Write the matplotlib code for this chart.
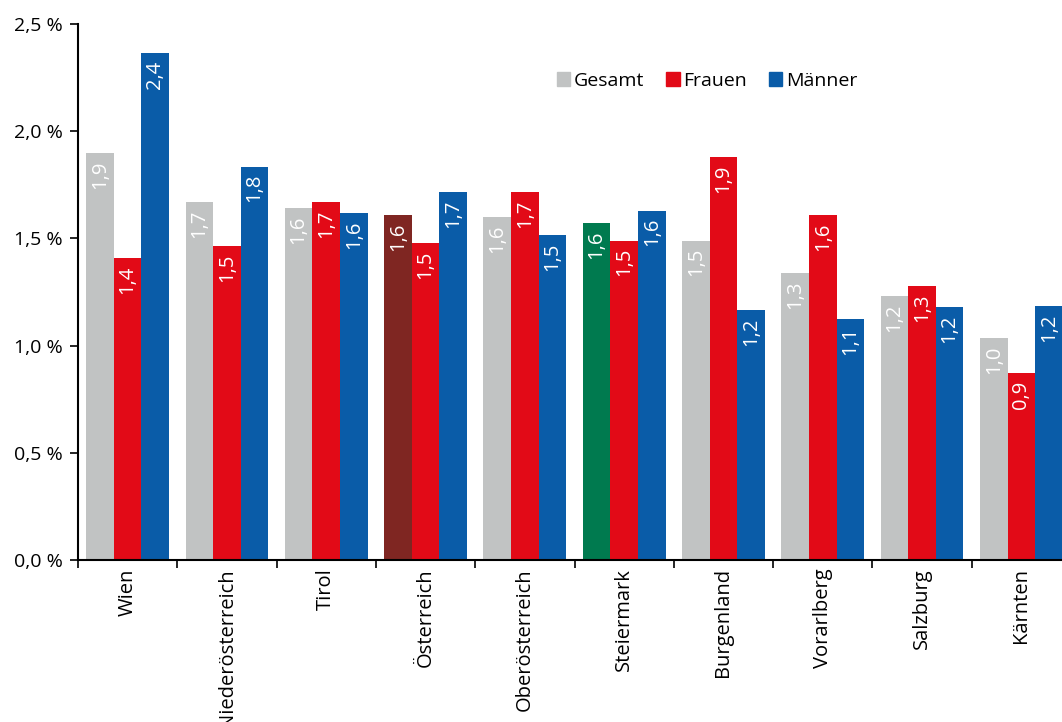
"""Grouped bar chart: rates by Bundesland, Gesamt / Frauen / Männer."""

import matplotlib

matplotlib.use("Agg")

import matplotlib.pyplot as plt
import numpy as np
from matplotlib.patches import Patch
from matplotlib.ticker import FuncFormatter

regions = ["Wien", "Niederösterreich", "Tirol", "Österreich", "Oberösterreich",
           "Steiermark", "Burgenland", "Vorarlberg", "Salzburg", "Kärnten"]
gesamt = [1.90, 1.67, 1.64, 1.61, 1.60, 1.57, 1.49, 1.34, 1.23, 1.035]
frauen = [1.41, 1.465, 1.67, 1.48, 1.715, 1.49, 1.88, 1.61, 1.28, 0.87]
maenner = [2.365, 1.835, 1.62, 1.715, 1.515, 1.63, 1.165, 1.125, 1.18, 1.185]
series_names = ["Gesamt", "Frauen", "Männer"]

GREY = "#C1C3C3"
RED = "#E20A17"
BLUE = "#0A5CA8"
gesamt_colors = [GREY] * len(regions)
gesamt_colors[regions.index("Österreich")] = "#7F2622"
gesamt_colors[regions.index("Steiermark")] = "#007A4F"

plt.rcParams["font.family"] = ["Open Sans", "DejaVu Sans"]

fig = plt.figure(figsize=(10.62, 7.22), dpi=100)
ax = fig.add_axes([78 / 1062, 1 - 560 / 722, 993 / 1062, 536 / 722])

x = np.arange(len(regions))
width = 0.278
groups = [
    (gesamt, gesamt_colors, -width),
    (frauen, [RED] * len(regions), 0.0),
    (maenner, [BLUE] * len(regions), width),
]
for values, colors, offset in groups:
    bars = ax.bar(x + offset, values, width=width, color=colors, linewidth=0)
    for bar, val in zip(bars, values):
        label = f"{val:.1f}".replace(".", ",")
        ax.text(bar.get_x() + bar.get_width() / 2, val - 0.035, label,
                rotation=90, ha="center", va="top", color="white", fontsize=14.5)

ax.set_xlim(-0.5, len(regions) - 0.5)
ax.set_ylim(0, 2.5)
ax.set_yticks(np.arange(0, 2.51, 0.5))
ax.yaxis.set_major_formatter(FuncFormatter(lambda v, _: f"{v:.1f} %".replace(".", ",")))

ax.set_xticks(x)
ax.set_xticklabels(regions, rotation=90, fontsize=14.5)
ax.set_xticks(np.arange(-0.5, len(regions), 1.0), minor=True)
ax.tick_params(axis="x", which="major", length=0, pad=6)
ax.tick_params(axis="x", which="minor", length=6, width=1.2, direction="out")
ax.tick_params(axis="y", length=6, width=1.2, direction="out", labelsize=14, pad=5)

for side in ("top", "right"):
    ax.spines[side].set_visible(False)
for side in ("left", "bottom"):
    ax.spines[side].set_linewidth(1.5)

handles = [Patch(color=c) for c in (GREY, RED, BLUE)]
fig.legend(handles, series_names, loc="center left", bbox_to_anchor=(547 / 1062, 1 - 81 / 722),
           ncol=3, frameon=False, fontsize=14, handlelength=0.7, handleheight=0.7,
           handletextpad=0.2, columnspacing=1.1, borderpad=0)

fig.savefig("out.png", dpi=100)
